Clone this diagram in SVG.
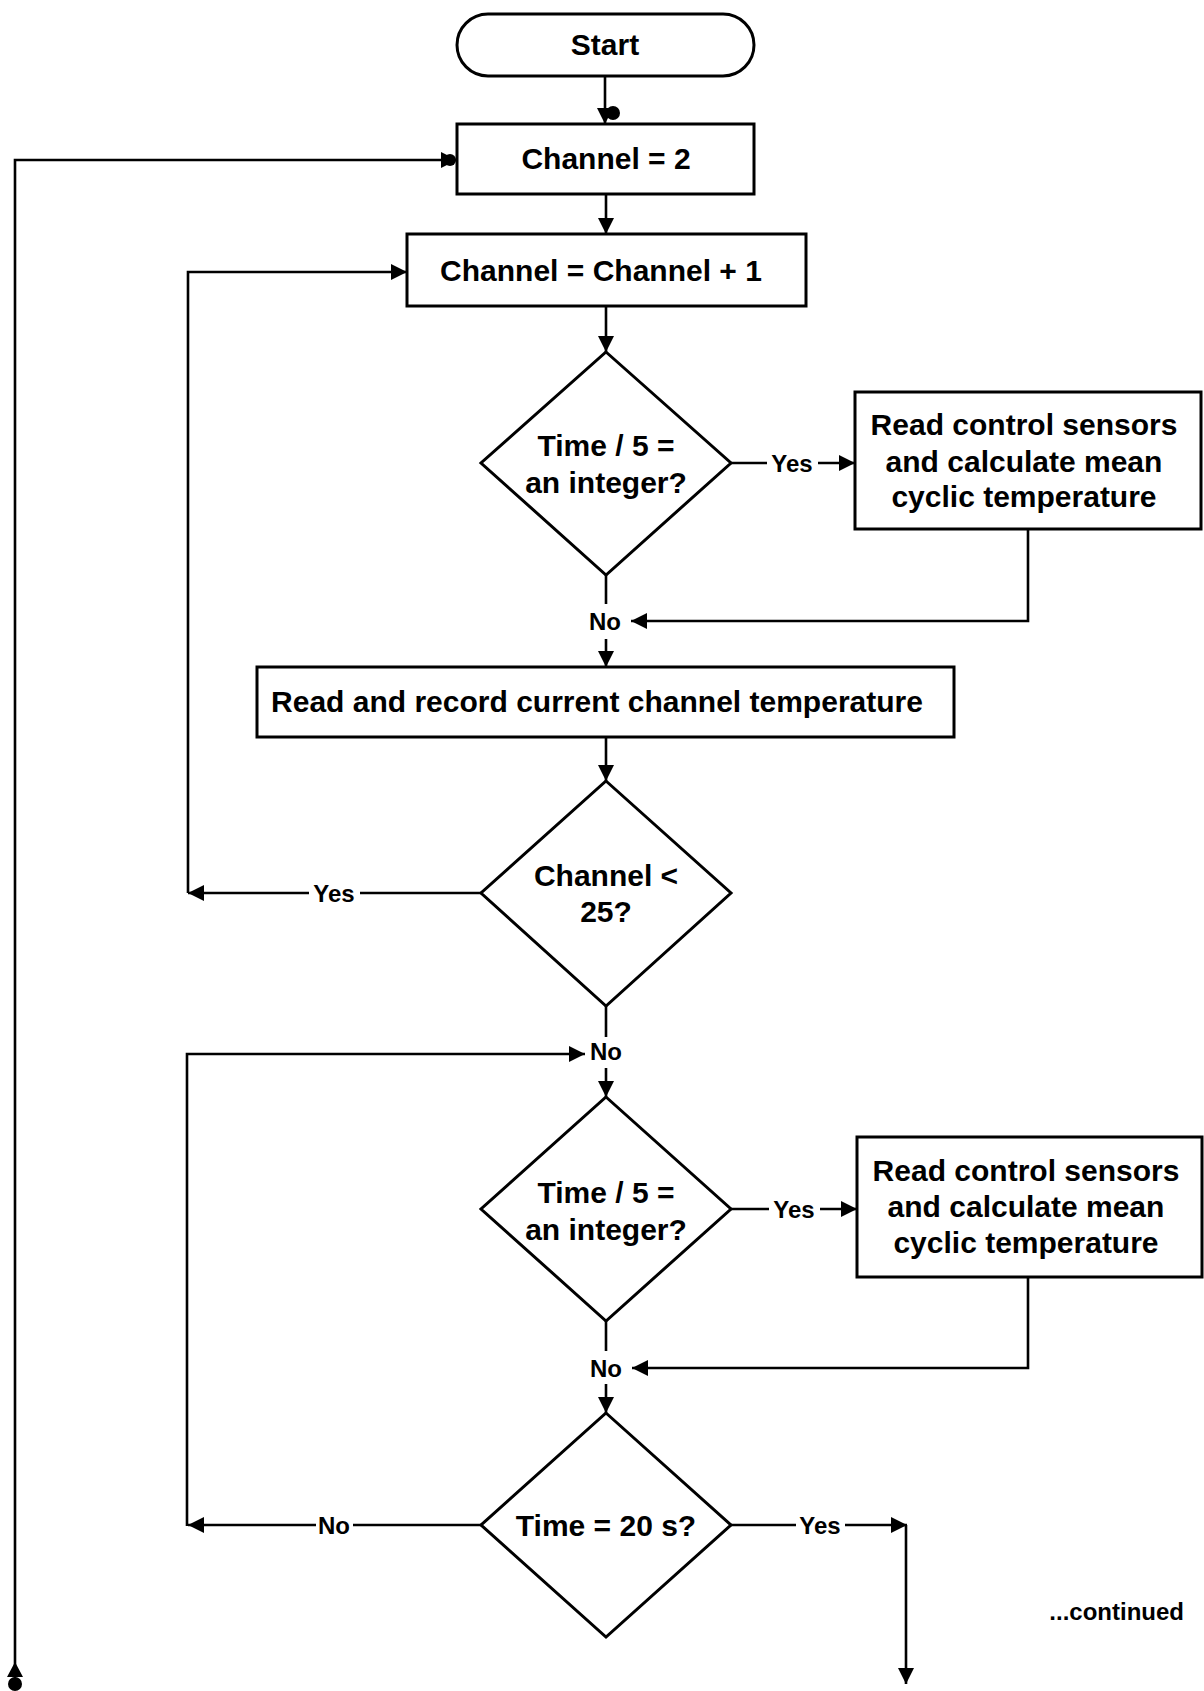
<svg xmlns="http://www.w3.org/2000/svg" width="1204" height="1691" viewBox="0 0 1204 1691">
<defs>
<style>
.shape{fill:#fff;stroke:#000;stroke-width:3}
.ln{fill:none;stroke:#000;stroke-width:2.6}
.arr{marker-end:url(#ah)}
.t{font-family:"Liberation Sans",Arial,sans-serif;font-weight:bold;font-size:30px;text-anchor:middle;fill:#000}
.lb{font-family:"Liberation Sans",Arial,sans-serif;font-weight:bold;font-size:24px;text-anchor:middle;fill:#000}
.dot{fill:#000}
</style>
<marker id="ah" viewBox="0 0 16 16" refX="16" refY="8" markerWidth="16" markerHeight="16" markerUnits="userSpaceOnUse" orient="auto">
<path d="M0,0 L16,8 L0,16 z" fill="#000"/>
</marker>
</defs>
<rect width="1204" height="1691" fill="#fff"/>

<g id="connectors">
<!-- Start -> Channel=2 -->
<line class="ln arr" x1="605" y1="76" x2="605" y2="124"/>
<circle class="dot" cx="613" cy="113" r="7"/>
<!-- Channel=2 -> Channel+1 -->
<line class="ln arr" x1="606" y1="194" x2="606" y2="234"/>
<!-- Channel+1 -> diamond1 -->
<line class="ln arr" x1="606" y1="306" x2="606" y2="352"/>
<!-- diamond1 Yes -> box1 -->
<line class="ln" x1="731" y1="463" x2="767" y2="463"/>
<line class="ln arr" x1="818" y1="463" x2="855" y2="463"/>
<!-- box1 -> No -->
<polyline class="ln arr" points="1028,529 1028,621 631,621"/>
<!-- diamond1 -> No -->
<line class="ln" x1="606" y1="575" x2="606" y2="604"/>
<!-- No -> Read and record -->
<line class="ln arr" x1="606" y1="639" x2="606" y2="667"/>
<!-- Read and record -> diamond2 -->
<line class="ln arr" x1="606" y1="737" x2="606" y2="781"/>
<!-- diamond2 Yes -> loop back -->
<line class="ln" x1="481" y1="893" x2="360" y2="893"/>
<line class="ln arr" x1="309" y1="893" x2="188" y2="893"/>
<polyline class="ln arr" points="188,893 188,272 407,272"/>
<!-- diamond2 No -->
<line class="ln" x1="606" y1="1006" x2="606" y2="1037"/>
<!-- loop from diamond4 No -> No -->
<polyline class="ln arr" points="187,1526 187,1054 585,1054"/>
<line class="ln arr" x1="606" y1="1068" x2="606" y2="1097"/>
<!-- diamond3 Yes -> box2 -->
<line class="ln" x1="731" y1="1209" x2="769" y2="1209"/>
<line class="ln arr" x1="820" y1="1209" x2="857" y2="1209"/>
<!-- box2 -> No -->
<polyline class="ln arr" points="1028,1277 1028,1368 632,1368"/>
<line class="ln" x1="606" y1="1321" x2="606" y2="1351"/>
<line class="ln arr" x1="606" y1="1384" x2="606" y2="1413"/>
<!-- diamond4 No -->
<line class="ln" x1="481" y1="1525" x2="353" y2="1525"/>
<line class="ln arr" x1="316" y1="1525" x2="188" y2="1525"/>
<!-- diamond4 Yes -->
<line class="ln" x1="731" y1="1525" x2="796" y2="1525"/>
<line class="ln arr" x1="845" y1="1525" x2="907" y2="1525"/>
<line class="ln arr" x1="906" y1="1525" x2="906" y2="1684"/>
<!-- outer loop -->
<polyline class="ln arr" points="15,1680 15,160 457,160"/>
<circle class="dot" cx="450" cy="160" r="6"/>
<path d="M15,1662 L23,1677 L7,1677 z" fill="#000"/>
<circle class="dot" cx="15" cy="1684" r="7"/>
<!-- labels -->
<text class="lb" x="792" y="472">Yes</text>
<text class="lb" x="605" y="630">No</text>
<text class="lb" x="334" y="902">Yes</text>
<text class="lb" x="606" y="1060">No</text>
<text class="lb" x="794" y="1218">Yes</text>
<text class="lb" x="606" y="1377">No</text>
<text class="lb" x="334" y="1534">No</text>
<text class="lb" x="820" y="1534">Yes</text>
</g>

<g id="start">
<rect class="shape" x="457" y="14" width="297" height="62" rx="31" ry="31"/>
<text class="t" x="605" y="55">Start</text>
</g>

<g id="channel-2">
<rect class="shape" x="457" y="124" width="297" height="70"/>
<text class="t" x="606" y="169">Channel = 2</text>
</g>

<g id="channel-inc">
<rect class="shape" x="407" y="234" width="399" height="72"/>
<text class="t" x="601" y="281">Channel = Channel + 1</text>
</g>

<g id="decision-time5-a">
<polygon class="shape" points="606,352 731,463 606,575 481,463"/>
<text class="t" x="606" y="456">Time / 5 =</text>
<text class="t" x="606" y="493">an integer?</text>
</g>

<g id="read-sensors-a">
<rect class="shape" x="855" y="392" width="346" height="137"/>
<text class="t" x="1024" y="435">Read control sensors</text>
<text class="t" x="1024" y="472">and calculate mean</text>
<text class="t" x="1024" y="507">cyclic temperature</text>
</g>

<g id="read-record">
<rect class="shape" x="257" y="667" width="697" height="70"/>
<text class="t" x="597" y="712">Read and record current channel temperature</text>
</g>

<g id="decision-channel">
<polygon class="shape" points="606,781 731,893 606,1006 481,893"/>
<text class="t" x="606" y="886">Channel &lt;</text>
<text class="t" x="606" y="922">25?</text>
</g>

<g id="decision-time5-b">
<polygon class="shape" points="606,1097 731,1209 606,1321 481,1209"/>
<text class="t" x="606" y="1203">Time / 5 =</text>
<text class="t" x="606" y="1240">an integer?</text>
</g>

<g id="read-sensors-b">
<rect class="shape" x="857" y="1137" width="345" height="140"/>
<text class="t" x="1026" y="1181">Read control sensors</text>
<text class="t" x="1026" y="1217">and calculate mean</text>
<text class="t" x="1026" y="1253">cyclic temperature</text>
</g>

<g id="decision-time20">
<polygon class="shape" points="606,1413 731,1525 606,1637 481,1525"/>
<text class="t" x="606" y="1536">Time = 20 s?</text>
</g>

<g id="continued">
<text class="lb" x="1184" y="1620" style="text-anchor:end">...continued</text>
</g>
</svg>
